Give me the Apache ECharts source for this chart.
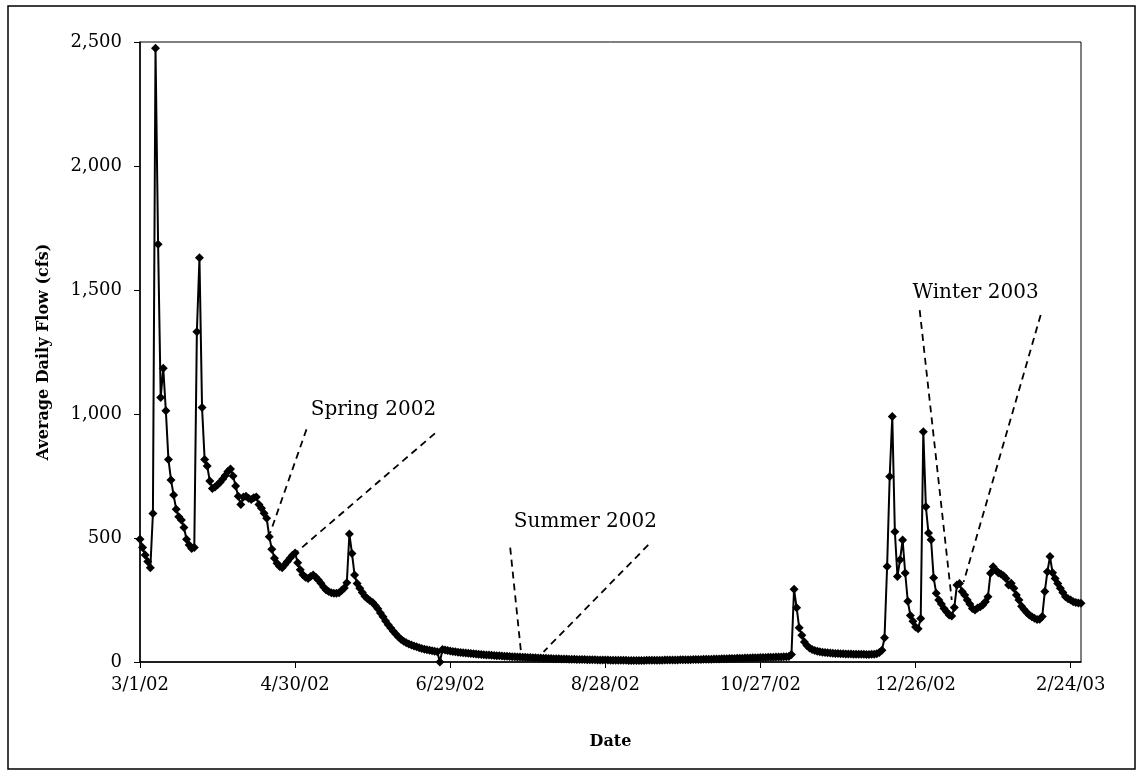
<!DOCTYPE html>
<html>
<head>
<meta charset="utf-8">
<script src="https://cdn.jsdelivr.net/npm/echarts@6/dist/echarts.min.js"></script>
<style>
html,body{margin:0;padding:0;background:#fff;}
#chart{width:1143px;height:777px;}
</style>
</head>
<body>
<div id="chart"></div>
<script>
// Daily average flow (cfs), 3/1/2002 .. 2/28/2003, one array per month
const flowMar2002 = [495,462,431,405,380,599,2475,1684,1067,1184,1013,817,734,673,616,586,573,542,495,472,458,462,1332,1630,1026,817,790,730,700,706,715];
const flowApr2002 = [725,738,752,768,778,750,710,668,635,665,668,660,655,662,665,635,620,600,580,505,455,418,398,385,380,392,405,418,430,440];
const flowMay2002 = [400,372,352,342,337,345,351,342,331,318,302,290,284,279,277,277,279,288,298,320,516,438,351,317,297,280,265,255,247,240,228];
const flowJun2002 = [215,198,182,165,150,137,124,112,101,91,84,78,73,69,65,61,57,54,51,49,47,45,43,41,0,50,48,46,44,42];
const flowJul2002 = [41,39,38,37,36,35,34,33,32,31,30,29,28,28,27,26,25,25,24,23,23,22,21,21,20,20,19,19,18,18,17];
const flowAug2002 = [17,16,16,15,15,14,14,13,13,13,12,12,12,11,11,11,10,10,10,10,9,9,9,9,8,8,8,8,8,7,7];
const flowSep2002 = [7,7,7,7,7,6,6,6,6,6,6,6,7,7,7,7,7,7,7,8,8,8,8,8,8,9,9,9,9,9];
const flowOct2002 = [10,10,10,10,11,11,11,11,12,12,12,13,13,13,14,14,14,15,15,15,16,16,16,17,17,17,18,18,18,19,19];
const flowNov2002 = [19,20,20,20,21,21,22,30,293,219,138,108,81,67,56,50,46,43,41,39,38,37,36,35,34,34,33,33,32,32];
const flowDec2002 = [32,31,31,31,31,31,30,30,31,31,33,38,47,98,385,748,990,525,345,412,492,359,245,188,164,141,134,175,928,626,520];
const flowJan2003 = [493,340,277,250,234,216,203,190,185,220,310,317,284,270,250,234,216,210,218,223,230,243,263,358,384,371,360,355,348,337,310];
const flowFeb2003 = [318,297,270,250,225,212,200,190,182,176,171,172,183,284,364,425,360,337,317,297,280,263,255,250,243,240,238,237];

const startYear = 2002, startMonth = 3, startDay = 1;   // first day of the record
const xTickDays = [0, 60, 120, 180, 240, 300, 360];     // days after start with labels
const yTickValues = [0, 500, 1000, 1500, 2000, 2500];

// Annotation callouts in data units: [day, cfs]
const annotationLabels = [
  { text: 'Spring 2002', at: [90.3, 1015] },
  { text: 'Summer 2002', at: [172.3, 565] },
  { text: 'Winter 2003', at: [323.2, 1487] }
];
const annotationLeaders = [
  [[64.4, 938], [50.3, 519]],
  [[114.1, 922], [61, 447]],
  [[143.2, 461], [147.5, 28]],
  [[196.6, 472], [156.1, 41]],
  [[301.6, 1419], [314, 250]],
  [[348.4, 1399], [318.6, 323]]
];

const flow = [].concat(flowMar2002, flowApr2002, flowMay2002, flowJun2002, flowJul2002, flowAug2002,
  flowSep2002, flowOct2002, flowNov2002, flowDec2002, flowJan2003, flowFeb2003);
const seriesData = flow.map((v, i) => [i, v]);
const lastDay = flow.length - 1;

function dayLabel(d) {
  const t = new Date(Date.UTC(startYear, startMonth - 1, startDay) + Math.round(d) * 86400000);
  return (t.getUTCMonth() + 1) + '/' + t.getUTCDate() + '/' + String(t.getUTCFullYear()).slice(2);
}

const FONT = 'DejaVu Serif';
const chart = echarts.init(document.getElementById('chart'), null, { renderer: 'canvas' });
chart.setOption({
  animation: false,
  backgroundColor: '#fff',
  grid: { left: 140, right: 62, top: 42, bottom: 115, show: true, borderColor: '#000', borderWidth: 1, backgroundColor: 'transparent' },
  graphic: [{
    type: 'rect', shape: { x: 8, y: 6, width: 1127, height: 763 },
    style: { fill: 'none', stroke: '#000', lineWidth: 1.5 }, silent: true
  }],
  xAxis: {
    type: 'value', min: 0, max: lastDay, interval: 60,
    name: 'Date', nameLocation: 'middle', nameGap: 72,
    nameTextStyle: { fontFamily: FONT, fontWeight: 'bold', fontSize: 16, color: '#000' },
    axisLine: { show: true, onZero: false, lineStyle: { color: '#000', width: 1.5 } },
    axisTick: { show: true, length: 6, inside: false, customValues: xTickDays, lineStyle: { color: '#000', width: 1 } },
    axisLabel: { customValues: xTickDays, formatter: v => dayLabel(v), fontFamily: FONT, fontSize: 18, color: '#000', margin: 14 },
    splitLine: { show: false }
  },
  yAxis: {
    type: 'value', min: 0, max: 2500, interval: 500,
    name: 'Average Daily Flow (cfs)', nameLocation: 'middle', nameGap: 88, nameRotate: 90,
    nameTextStyle: { fontFamily: FONT, fontWeight: 'bold', fontSize: 16, color: '#000' },
    axisLine: { show: true, lineStyle: { color: '#000', width: 1.5 } },
    axisTick: { show: true, length: 6, inside: false, customValues: yTickValues, lineStyle: { color: '#000', width: 1 } },
    axisLabel: { customValues: yTickValues, formatter: v => v.toLocaleString('en-US'), fontFamily: FONT, fontSize: 18, color: '#000', margin: 18 },
    splitLine: { show: false }
  },
  series: [{
    type: 'line',
    data: seriesData,
    symbol: 'diamond', symbolSize: 9, showSymbol: true, showAllSymbol: true,
    clip: false,
    lineStyle: { color: '#000', width: 2 },
    itemStyle: { color: '#000' },
    emphasis: { disabled: true },
    markLine: {
      silent: true, symbol: ['none', 'none'],
      label: { show: false },
      lineStyle: { color: '#000', type: [7, 5], width: 1.8, opacity: 1 },
      emphasis: { disabled: true },
      data: annotationLeaders.map(l => [{ coord: l[0] }, { coord: l[1] }])
    },
    markPoint: {
      silent: true,
      data: annotationLabels.map(a => ({
        name: a.text, coord: a.at, symbol: 'rect', symbolSize: 1,
        itemStyle: { color: 'rgba(0,0,0,0)' },
        label: { show: true, position: 'inside', formatter: a.text, color: '#000', fontFamily: FONT, fontSize: 20 }
      }))
    }
  }]
});
</script>
</body>
</html>
